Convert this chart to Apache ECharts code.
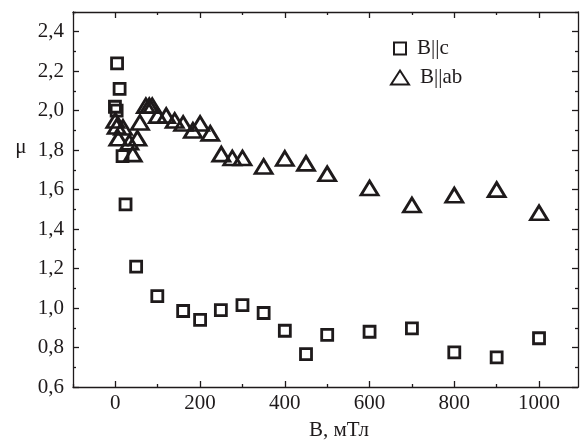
<!DOCTYPE html>
<html>
<head>
    <meta charset="utf-8">
    <script src="https://cdn.jsdelivr.net/npm/echarts@6/dist/echarts.min.js"></script>
    <style>
        html, body { margin: 0; padding: 0; background: #fff; }
    </style>
</head>
<body>
<div id="main" style="width:582px;height:446px;"></div>
<script type="text/javascript">
    // B || c
    var cField = [-1, 3, 4, 10, 17, 24, 49, 99, 160, 200, 249, 300, 350, 400, 450, 500, 600, 700, 800, 900, 1000];
    var cMu = [2.02, 2.00, 2.24, 2.11, 1.77, 1.525, 1.21, 1.06, 0.985, 0.94, 0.99, 1.015, 0.975, 0.885, 0.767, 0.864, 0.88, 0.897, 0.775, 0.75, 0.847];
    // B || ab
    var abField = [0, 3, 18, 7, 33, 52, 41, 58, 72, 80, 87, 100, 120, 140, 160, 183, 200, 224, 250, 276, 300, 350, 400, 450, 500, 600, 700, 800, 900, 1000];
    var abMu = [1.95, 1.92, 1.915, 1.86, 1.84, 1.86, 1.78, 1.94, 2.025, 2.025, 2.025, 1.975, 1.975, 1.95, 1.935, 1.90, 1.935, 1.885, 1.78, 1.76, 1.76, 1.717, 1.758, 1.733, 1.68, 1.608, 1.522, 1.572, 1.60, 1.483];

    var xMajor = [0, 200, 400, 600, 800, 1000];
    var xMinor = [-100, 100, 300, 500, 700, 900];
    var yMajor = [0.6, 0.8, 1.0, 1.2, 1.4, 1.6, 1.8, 2.0, 2.2, 2.4];
    var yMinor = [0.7, 0.9, 1.1, 1.3, 1.5, 1.7, 1.9, 2.1, 2.3, 2.5];

    function pairs(xs, ys) {
        var out = [];
        for (var i = 0; i < xs.length; i++) out.push([xs[i], ys[i]]);
        return out;
    }

    var ink = '#1e1a1b';
    var font = 'Liberation Serif';
    var fs = 21;
    var line = {show: true, onZero: false, lineStyle: {color: ink, width: 1.3}};

    function xAx(pos, ticks, len, withLine, withLabel) {
        return {
            type: 'value', position: pos, min: -100, max: 1092,
            axisLine: withLine ? line : {show: false, onZero: false},
            axisTick: {show: true, inside: true, length: len, customValues: ticks, lineStyle: {color: ink, width: 1.3}},
            axisLabel: withLabel ? {
                show: true, customValues: ticks, margin: 6, color: ink, fontFamily: font, fontSize: fs,
                formatter: function (v) { return String(v); }
            } : {show: false},
            splitLine: {show: false}
        };
    }
    function yAx(pos, ticks, len, withLine, withLabel) {
        return {
            type: 'value', position: pos, min: 0.6, max: 2.5,
            axisLine: withLine ? line : {show: false, onZero: false},
            axisTick: {show: true, inside: true, length: len, customValues: ticks, lineStyle: {color: ink, width: 1.3}},
            axisLabel: withLabel ? {
                show: true, customValues: ticks, margin: 9, color: ink, fontFamily: font, fontSize: fs,
                formatter: function (v) { return v.toFixed(1).replace('.', ','); }
            } : {show: false},
            splitLine: {show: false}
        };
    }

    var xAxes = [
        xAx('bottom', xMajor, 6, true, true),
        xAx('bottom', xMinor, 3, false, false),
        xAx('top', xMajor, 6, true, false),
        xAx('top', xMinor, 3, false, false)
    ];
    xAxes[0].name = 'B, мТл';
    xAxes[0].nameLocation = 'middle';
    xAxes[0].nameGap = 33;
    xAxes[0].nameTextStyle = {color: ink, fontFamily: font, fontSize: fs, padding: [0, 0, 0, 27]};

    var yAxes = [
        yAx('left', yMajor, 6, true, true),
        yAx('left', yMinor, 3, false, false),
        yAx('right', yMajor, 6, true, false),
        yAx('right', yMinor, 3, false, false)
    ];

    var legendText = {color: ink, fontFamily: font, fontSize: fs, padding: [0, 0, 0, 6]};

    var chart = echarts.init(document.getElementById('main'));
    chart.setOption({
        animation: false,
        backgroundColor: '#fff',
        grid: {left: 73, top: 12, right: 4, bottom: 55},
        xAxis: xAxes,
        yAxis: yAxes,
        legend: [
            {left: 393, top: 38, itemWidth: 12, itemHeight: 12, padding: 0, textStyle: legendText, data: ['B||c']},
            {left: 390, top: 67, itemWidth: 18, itemHeight: 14, padding: 0, textStyle: legendText, data: ['B||ab']}
        ],
        graphic: [{
            type: 'text', x: 21, y: 147,
            style: {text: 'μ', fill: ink, font: '21px "Liberation Serif"', align: 'center', verticalAlign: 'middle'}
        }],
        series: [
            {
                name: 'B||c', type: 'scatter', xAxisIndex: 0, yAxisIndex: 0,
                symbol: 'rect', symbolSize: 11,
                itemStyle: {color: 'rgba(255,255,255,0)', borderColor: ink, borderWidth: 2.8, opacity: 1},
                data: pairs(cField, cMu)
            },
            {
                name: 'B||ab', type: 'scatter', xAxisIndex: 0, yAxisIndex: 0,
                symbol: 'triangle', symbolSize: [17, 14],
                itemStyle: {color: 'rgba(255,255,255,0)', borderColor: ink, borderWidth: 2.8, opacity: 1},
                data: pairs(abField, abMu)
            }
        ]
    });
</script>
</body>
</html>
